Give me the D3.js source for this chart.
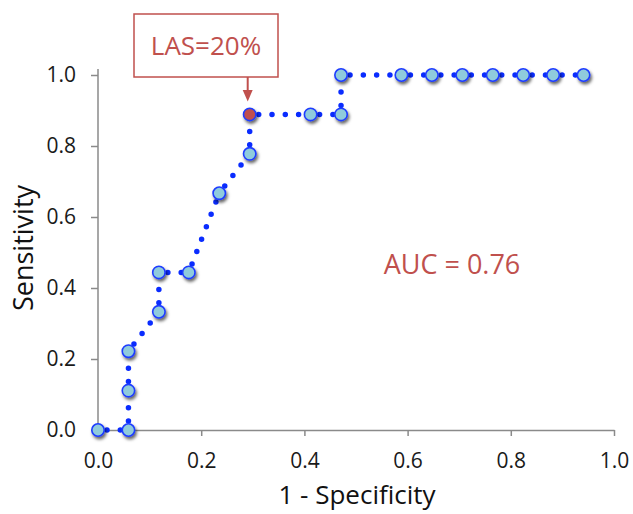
<!DOCTYPE html>
<html>
<head>
<meta charset="utf-8">
<script src="https://cdn.jsdelivr.net/npm/d3@7"></script>
<style>
  html, body { margin: 0; padding: 0; background: #fff; }
  svg text { font-family: "Open Sans", "DejaVu Sans", sans-serif; }
</style>
</head>
<body>
<div id="chart"></div>
<script>
// =========================
// DATA
// =========================
const falsePositiveRate = [0.000, 0.059, 0.059, 0.059, 0.118, 0.118, 0.176, 0.235, 0.294, 0.294,
                           0.412, 0.471, 0.471, 0.588, 0.647, 0.706, 0.765, 0.824, 0.882, 0.941];
const sensitivity       = [0.000, 0.000, 0.111, 0.222, 0.333, 0.444, 0.444, 0.667, 0.778, 0.889,
                           0.889, 0.889, 1.000, 1.000, 1.000, 1.000, 1.000, 1.000, 1.000, 1.000];
const highlightIndex = 9;
const highlightLabel = "LAS=20%";
const aucLabel = "AUC = 0.76";
const tickValues = [0, 0.2, 0.4, 0.6, 0.8, 1.0];
const xTitle = "1 - Specificity";
const yTitle = "Sensitivity";

const points = falsePositiveRate.map((x, i) => ({ x, y: sensitivity[i], i }));

// =========================
// SETUP
// =========================
const width = 633, height = 514;
const red = "#c0504d";
const blue = "#0a2cff";

const svg = d3.select("#chart").append("svg")
    .attr("width", width)
    .attr("height", height);

const x = d3.scaleLinear().domain([0, 1]).range([98, 614]);
const y = d3.scaleLinear().domain([0, 1]).range([430, 75]);

const defs = svg.append("defs");
const shadow = defs.append("filter").attr("id", "shadow")
    .attr("x", "-50%").attr("y", "-50%").attr("width", "200%").attr("height", "200%");
shadow.append("feDropShadow")
    .attr("dx", 1.5).attr("dy", 2.5).attr("stdDeviation", 1.6)
    .attr("flood-color", "#000").attr("flood-opacity", 0.6);

// =========================
// AXES
// =========================
const xAxis = svg.append("g")
    .attr("transform", `translate(0,${y(0)})`)
    .call(d3.axisBottom(x).tickValues(tickValues).tickFormat(d3.format(".1f"))
        .tickSize(6).tickSizeOuter(0).tickPadding(17));

const yAxis = svg.append("g")
    .attr("transform", `translate(${x(0)},0)`)
    .call(d3.axisLeft(y).tickValues(tickValues).tickFormat(d3.format(".1f"))
        .tickSize(7).tickSizeOuter(0).tickPadding(15));

[xAxis, yAxis].forEach(g => {
    g.select(".domain").attr("stroke", "#8a8a8a").attr("stroke-width", 1.5);
    g.selectAll(".tick line").attr("stroke", "#8a8a8a").attr("stroke-width", 1.5);
    g.selectAll(".tick text").attr("fill", "#1a1a1a").style("font-size", "21px");
});
xAxis.selectAll(".tick").filter(d => d === 0).select("line").remove();
yAxis.select(".domain").attr("d", `M0,${y(0)}V${y(1) - 6}`);

// axis titles
svg.append("text")
    .attr("x", 357).attr("y", 504)
    .attr("text-anchor", "middle")
    .style("font-size", "26px")
    .attr("fill", "#111")
    .text(xTitle);

svg.append("text")
    .attr("transform", `translate(33,248) rotate(-90)`)
    .attr("text-anchor", "middle")
    .style("font-size", "27px")
    .attr("fill", "#111")
    .text(yTitle);

// =========================
// DOTTED LINE (one dotted run per segment)
// =========================
const line = d3.line().x(d => x(d.x)).y(d => y(d.y));
svg.append("g").selectAll("path")
    .data(d3.pairs(points))
    .join("path")
    .attr("d", d => line(d))
    .attr("fill", "none")
    .attr("stroke", blue)
    .attr("stroke-width", 5.5)
    .attr("stroke-linecap", "round")
    .attr("stroke-dasharray", "0 13.3")
    .attr("stroke-dashoffset", -9);

// =========================
// MARKERS
// =========================
svg.append("g").selectAll("circle")
    .data(points)
    .join("circle")
    .attr("cx", d => x(d.x))
    .attr("cy", d => y(d.y))
    .attr("r", 6.2)
    .attr("fill", d => d.i === highlightIndex ? red : "#8fcbdc")
    .attr("stroke", "#1f3cff")
    .attr("stroke-width", 1.6)
    .attr("filter", "url(#shadow)");

// =========================
// ANNOTATIONS
// =========================
const hp = points[highlightIndex];
svg.append("rect")
    .attr("x", 134).attr("y", 14)
    .attr("width", 144).attr("height", 63)
    .attr("fill", "#fff")
    .attr("stroke", red)
    .attr("stroke-width", 1.5);

svg.append("text")
    .attr("x", 206).attr("y", 55)
    .attr("text-anchor", "middle")
    .attr("fill", red)
    .style("font-size", "26px")
    .text(highlightLabel);

svg.append("line")
    .attr("x1", x(hp.x) - 2).attr("x2", x(hp.x) - 2)
    .attr("y1", 77).attr("y2", 92)
    .attr("stroke", red).attr("stroke-width", 2);
svg.append("path")
    .attr("d", `M${x(hp.x) - 7},${90}L${x(hp.x) + 3},${90}L${x(hp.x) - 2},${y(hp.y) - 13}Z`)
    .attr("fill", red);

svg.append("text")
    .attr("x", 452).attr("y", 274)
    .attr("text-anchor", "middle")
    .attr("fill", red)
    .style("font-size", "27px")
    .text(aucLabel);
</script>
</body>
</html>
